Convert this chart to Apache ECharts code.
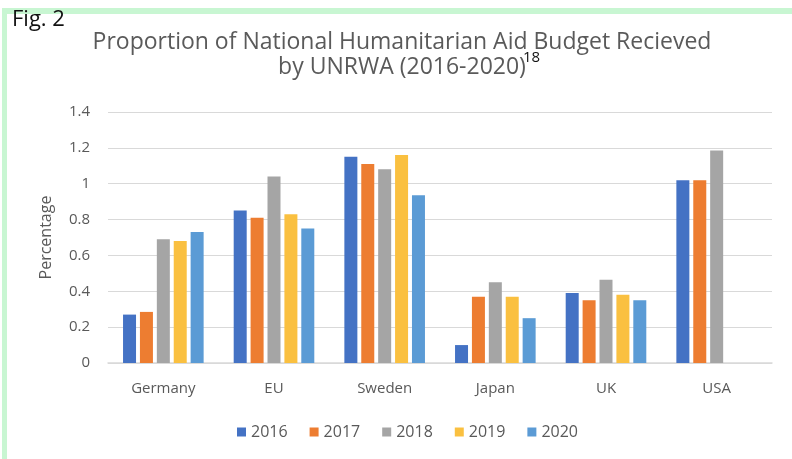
<!DOCTYPE html>
<html>
<head>
<meta charset="utf-8">
<script src="https://cdn.jsdelivr.net/npm/echarts@6/dist/echarts.min.js"></script>
<style>html,body{margin:0;padding:0;background:#fff}#c{width:792px;height:459px}</style>
</head>
<body>
<div id="c"></div>
<script>
const categories = ['Germany', 'EU', 'Sweden', 'Japan', 'UK', 'USA'];
const years = ['2016', '2017', '2018', '2019', '2020'];
const v2016 = [0.27, 0.85, 1.15, 0.10, 0.39, 1.02];
const v2017 = [0.285, 0.81, 1.11, 0.37, 0.35, 1.02];
const v2018 = [0.69, 1.04, 1.08, 0.45, 0.465, 1.185];
const v2019 = [0.68, 0.83, 1.16, 0.37, 0.38, null];
const v2020 = [0.73, 0.75, 0.935, 0.25, 0.35, null];
const yTicks = [0, 0.2, 0.4, 0.6, 0.8, 1, 1.2, 1.4];
const colors = ['#4472C4', '#ED7D31', '#A5A5A5', '#FAC040', '#5B9BD5'];
const seriesValues = [v2016, v2017, v2018, v2019, v2020];

const FONT = '"Open Sans", Lato, sans-serif';
const chart = echarts.init(document.getElementById('c'), null, {renderer: 'canvas'});
chart.setOption({
  animation: false,
  backgroundColor: '#fff',
  color: colors,
  title: {
    text: 'Proportion of National Humanitarian Aid Budget Recieved\nby UNRWA (2016-2020)',
    left: 397,
    textAlign: 'center',
    top: 25,
    textStyle: {fontFamily: FONT, fontSize: 23, fontWeight: 'normal', color: '#5a5a5a', lineHeight: 25}
  },
  graphic: [
    {type: 'rect', shape: {x: 2, y: 8, width: 790, height: 6}, style: {fill: '#c8f6d2'}, silent: true},
    {type: 'rect', shape: {x: 2, y: 8, width: 5, height: 451}, style: {fill: '#c8f6d2'}, silent: true},
    {type: 'text', left: 12, top: 9, style: {text: 'Fig. 2', fontFamily: FONT, fontSize: 22, fill: '#111'}},
    {type: 'text', left: 523, top: 50, style: {text: '18', fontFamily: FONT, fontSize: 15, fill: '#111'}}
  ],
  legend: {
    data: years,
    bottom: 14,
    left: 232,
    itemWidth: 9,
    itemHeight: 9,
    itemGap: 22,
    icon: 'rect',
    textStyle: {fontFamily: FONT, fontSize: 16, color: '#595959'}
  },
  grid: {left: 108, right: 20, top: 112, bottom: 96, containLabel: false},
  xAxis: {
    type: 'category',
    data: categories,
    axisLine: {lineStyle: {color: '#d9d9d9', width: 1.5}},
    axisTick: {show: false},
    axisLabel: {fontFamily: FONT, fontSize: 15, color: '#595959', margin: 18}
  },
  yAxis: {
    type: 'value',
    min: yTicks[0],
    max: yTicks[yTicks.length - 1],
    interval: 0.2,
    name: 'Percentage',
    nameLocation: 'middle',
    nameGap: 54,
    nameTextStyle: {fontFamily: FONT, fontSize: 16, color: '#595959'},
    axisLine: {show: false},
    axisTick: {show: false},
    splitLine: {lineStyle: {color: '#d9d9d9', width: 1}},
    axisLabel: {
      fontFamily: FONT, fontSize: 15, color: '#595959', margin: 18,
      formatter: v => String(Math.round(v * 10) / 10)
    }
  },
  series: years.map((y, i) => ({
    name: y,
    type: 'bar',
    data: seriesValues[i],
    barWidth: 13,
    barGap: '30%',
    itemStyle: {color: colors[i]}
  }))
});
</script>
</body>
</html>
